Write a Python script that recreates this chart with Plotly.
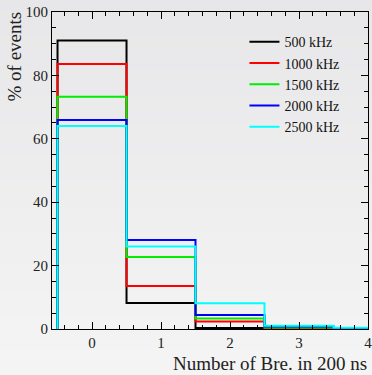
import plotly.graph_objects as go

# Bin edges of the multiplicity histogram (bins centred on 0..4)
bin_edges = [-0.5, 0.5, 1.5, 2.5, 3.5, 4.5]
series_names = ["500 kHz", "1000 kHz", "1500 kHz", "2000 kHz", "2500 kHz"]
series_colors = ["#000000", "#ff0000", "#00ee00", "#0000ff", "#00ffff"]

# Percentage of events per bin
pct_500 = [91.0, 8.2, 0.3, 0.1, 0.0]
pct_1000 = [83.6, 13.6, 2.4, 0.3, 0.1]
pct_1500 = [73.3, 22.7, 3.3, 0.5, 0.1]
pct_2000 = [65.9, 28.1, 4.4, 0.8, 0.2]
pct_2500 = [64.0, 26.0, 8.1, 1.0, 0.4]
series_values = [pct_500, pct_1000, pct_1500, pct_2000, pct_2500]

x_ticks = [0, 1, 2, 3, 4]
y_ticks = [0, 20, 40, 60, 80, 100]

fig = go.Figure()

for name, color, vals in zip(series_names, series_colors, series_values):
    # step outline: rise from zero at the first edge, then one step per bin
    xs = [bin_edges[0]] + bin_edges
    ys = [0] + vals + [vals[-1]]
    fig.add_trace(go.Scatter(
        x=xs, y=ys, mode="lines", name=name,
        line=dict(color=color, width=2, shape="hv"),
    ))

# vertical background gradient
n_bands = 75
top_rgb = (231, 231, 233)
bot_rgb = (245, 245, 245)
shapes = []
for i in range(n_bands):
    t = i / (n_bands - 1)
    c = tuple(round(top_rgb[k] + (bot_rgb[k] - top_rgb[k]) * t) for k in range(3))
    shapes.append(dict(
        type="rect", xref="paper", yref="paper", layer="below",
        x0=-0.2, x1=1.1,
        y0=1.05 - (i + 1) * (1.25 / n_bands), y1=1.05 - i * (1.25 / n_bands) + 0.002,
        fillcolor="rgb(%d,%d,%d)" % c, line=dict(width=0),
    ))

font_family = "Liberation Serif, Times New Roman, serif"

fig.update_layout(
    width=372, height=375,
    margin=dict(l=52, r=4, t=12, b=46, autoexpand=False),
    paper_bgcolor="rgb(238,238,239)",
    plot_bgcolor="rgba(0,0,0,0)",
    shapes=shapes,
    font=dict(family=font_family, size=15, color="#222222"),
    showlegend=True,
    legend=dict(
        x=0.609, y=0.955, xanchor="left", yanchor="top",
        bgcolor="rgba(0,0,0,0)", borderwidth=0,
        font=dict(family=font_family, size=14, color="#111111"),
        itemwidth=30, tracegroupgap=0,
    ),
    xaxis=dict(
        range=[-0.58, 4.0], tickvals=x_ticks, ticktext=[str(v) for v in x_ticks],
        ticks="inside", ticklen=7, tickwidth=1, tickcolor="black",
        ticklabeloverflow="allow", automargin=False,
        showline=True, linecolor="black", linewidth=1, mirror="allticks",
        showgrid=False, zeroline=False,
        minor=dict(dtick=0.2, tick0=0, ticks="inside", ticklen=4, tickcolor="black", showgrid=False),
        tickfont=dict(family=font_family, size=15),
    ),
    yaxis=dict(
        range=[0, 100], tickvals=y_ticks, ticktext=[str(v) for v in y_ticks],
        ticks="inside", ticklen=7, tickwidth=1, tickcolor="black",
        automargin=False,
        showline=True, linecolor="black", linewidth=1, mirror="allticks",
        showgrid=False, zeroline=False,
        minor=dict(dtick=5, tick0=0, ticks="inside", ticklen=4, tickcolor="black", showgrid=False),
        tickfont=dict(family=font_family, size=15),
    ),
    annotations=[
        dict(text="Number of Bre. in 200 ns", xref="paper", yref="paper",
             x=1.0, y=-0.145, xanchor="right", yanchor="bottom", showarrow=False,
             borderpad=0,
             font=dict(family=font_family, size=19, color="#222222")),
        dict(text="% of events", xref="paper", yref="paper",
             x=-0.12, y=1.005, xanchor="center", yanchor="top", textangle=-90,
             showarrow=False, borderpad=0,
             font=dict(family=font_family, size=19, color="#222222")),
    ],
)

fig.write_html("out.html")
